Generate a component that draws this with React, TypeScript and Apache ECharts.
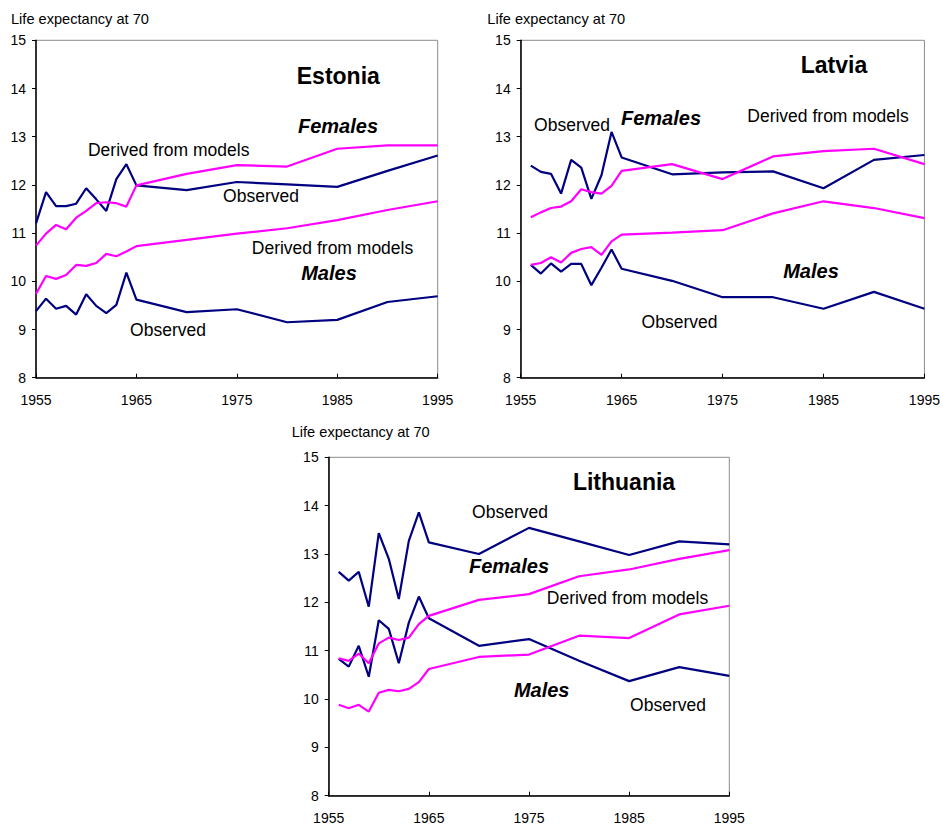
import React, { useEffect, useRef } from "react";
import * as echarts from "echarts";

// ---- Data ----
const estYears = [1955, 1956, 1957, 1958, 1959, 1960, 1961, 1962, 1963, 1964, 1965, 1970, 1975, 1980, 1985, 1990, 1995];
const estFemObs = [11.2, 11.85, 11.56, 11.56, 11.61, 11.93, 11.7, 11.46, 12.12, 12.43, 11.99, 11.89, 12.06, 12.01, 11.96, 12.29, 12.61];
const estFemMod = [10.74, 10.99, 11.17, 11.08, 11.32, 11.46, 11.62, 11.64, 11.62, 11.55, 11.99, 12.23, 12.41, 12.38, 12.75, 12.82, 12.82];
const estMalMod = [9.74, 10.11, 10.05, 10.13, 10.34, 10.32, 10.38, 10.57, 10.52, 10.62, 10.73, 10.86, 10.99, 11.1, 11.27, 11.48, 11.66];
const estMalObs = [9.38, 9.64, 9.43, 9.49, 9.31, 9.73, 9.49, 9.34, 9.51, 10.18, 9.62, 9.36, 9.42, 9.15, 9.2, 9.57, 9.69];

const latYears = [1956, 1957, 1958, 1959, 1960, 1961, 1962, 1963, 1964, 1965, 1970, 1975, 1980, 1985, 1990, 1995];
const latFemObs = [12.4, 12.27, 12.23, 11.82, 12.52, 12.36, 11.71, 12.2, 13.1, 12.57, 12.22, 12.26, 12.28, 11.93, 12.52, 12.62];
const latFemMod = [11.33, 11.43, 11.52, 11.55, 11.66, 11.91, 11.85, 11.82, 11.98, 12.29, 12.43, 12.12, 12.59, 12.7, 12.75, 12.43];
const latMalMod = [10.34, 10.38, 10.5, 10.39, 10.59, 10.67, 10.71, 10.55, 10.83, 10.97, 11.01, 11.06, 11.41, 11.66, 11.52, 11.31];
const latMalObs = [10.34, 10.16, 10.37, 10.2, 10.36, 10.36, 9.92, 10.28, 10.66, 10.26, 10.01, 9.67, 9.67, 9.43, 9.78, 9.43];

const litYears = [1956, 1957, 1958, 1959, 1960, 1961, 1962, 1963, 1964, 1965, 1970, 1975, 1980, 1985, 1990, 1995];
const litFemObs = [12.63, 12.45, 12.63, 11.91, 13.43, 12.9, 12.07, 13.27, 13.86, 13.24, 13.0, 13.54, 13.26, 12.98, 13.26, 13.2];
const litFemMod = [10.84, 10.79, 10.94, 10.74, 11.15, 11.27, 11.22, 11.27, 11.55, 11.72, 12.05, 12.17, 12.54, 12.68, 12.9, 13.08];
const litMalObs = [10.83, 10.67, 11.1, 10.46, 11.63, 11.45, 10.74, 11.58, 12.12, 11.67, 11.1, 11.24, 10.79, 10.37, 10.66, 10.48];
const litMalMod = [9.88, 9.81, 9.88, 9.74, 10.13, 10.19, 10.16, 10.21, 10.35, 10.62, 10.87, 10.92, 11.31, 11.26, 11.75, 11.93];

const xMin = 1955;
const xMax = 1995;
const xStep = 10;
const yMin = 8;
const yMax = 15;
const yStep = 1;

const yTitle = "Life expectancy at 70";
const countries = ["Estonia", "Latvia", "Lithuania"];

const NAVY = "#000080";
const MAGENTA = "#FF00FF";
const FONT = "'Liberation Sans', Arial, Helvetica, sans-serif";

const pairs = (xs: number[], ys: number[]) => xs.map((x, i) => [x, ys[i]]);

export default function App() {
  const ref = useRef<HTMLDivElement>(null);

  useEffect(() => {
    document.body.style.margin = "0";
    if (!ref.current) return;
    const chart = echarts.init(ref.current, undefined, { renderer: "svg" });

    const grids = [
      { left: 36, top: 40.3, width: 401.7, height: 337.4 },
      { left: 520.7, top: 40.3, width: 404.3, height: 337.4 },
      { left: 328.7, top: 457.3, width: 400.6, height: 338.4 },
    ];

    const xAxes = grids.map((_, i) => ({
      type: "value",
      gridIndex: i,
      min: xMin,
      max: xMax,
      interval: xStep,
      axisLine: { show: true, lineStyle: { color: "#000", width: 1.5 } },
      axisTick: { show: true, inside: true, length: 4, lineStyle: { color: "#000", width: 1 } },
      axisLabel: { show: true, margin: 15, color: "#000", fontSize: 14, fontFamily: FONT, formatter: (v: number) => String(v) },
      splitLine: { show: false },
    }));

    const yAxes = grids.map((_, i) => ({
      type: "value",
      gridIndex: i,
      min: yMin,
      max: yMax,
      interval: yStep,
      axisLine: { show: true, lineStyle: { color: "#000", width: 1.5 } },
      axisTick: { show: true, inside: false, length: 4, lineStyle: { color: "#000", width: 1 } },
      axisLabel: { show: true, margin: 10, color: "#000", fontSize: 14, fontFamily: FONT },
      splitLine: { show: false },
    }));

    const mk = (idx: number, xs: number[], ys: number[], color: string, name: string) => ({
      type: "line",
      name,
      xAxisIndex: idx,
      yAxisIndex: idx,
      data: pairs(xs, ys),
      symbol: "none",
      lineStyle: { color, width: 2.2 },
      itemStyle: { color },
    });

    const series = [
      mk(0, estYears, estFemObs, NAVY, "Estonia females observed"),
      mk(0, estYears, estMalObs, NAVY, "Estonia males observed"),
      mk(0, estYears, estFemMod, MAGENTA, "Estonia females models"),
      mk(0, estYears, estMalMod, MAGENTA, "Estonia males models"),
      mk(1, latYears, latFemObs, NAVY, "Latvia females observed"),
      mk(1, latYears, latMalObs, NAVY, "Latvia males observed"),
      mk(1, latYears, latFemMod, MAGENTA, "Latvia females models"),
      mk(1, latYears, latMalMod, MAGENTA, "Latvia males models"),
      mk(2, litYears, litFemObs, NAVY, "Lithuania females observed"),
      mk(2, litYears, litMalObs, NAVY, "Lithuania males observed"),
      mk(2, litYears, litFemMod, MAGENTA, "Lithuania females models"),
      mk(2, litYears, litMalMod, MAGENTA, "Lithuania males models"),
    ];

    const txt = (x: number, y: number, text: string, font: string, align = "center") => ({
      type: "text",
      x,
      y,
      z: 100,
      style: { text, fill: "#000", font, align, verticalAlign: "middle" },
    });
    const regular = `17.5px ${FONT}`;
    const boldIt = `italic bold 20px ${FONT}`;
    const title = `bold 23px ${FONT}`;
    const sub = `14.6px ${FONT}`;

    const graphic = [
      // subtitles
      txt(11, 19, yTitle, sub, "left"),
      txt(487.3, 19, yTitle, sub, "left"),
      txt(291.7, 432.3, yTitle, sub, "left"),
      // Estonia
      txt(338.3, 76, countries[0], title),
      txt(338, 126, "Females", boldIt),
      txt(168.7, 149.5, "Derived from models", regular),
      txt(261, 196, "Observed", regular),
      txt(332.5, 247.5, "Derived from models", regular),
      txt(329, 273, "Males", boldIt),
      txt(168, 329.5, "Observed", regular),
      // Latvia
      txt(834, 65, countries[1], title),
      txt(572, 124.5, "Observed", regular),
      txt(661, 118, "Females", boldIt),
      txt(828, 115.5, "Derived from models", regular),
      txt(811, 271, "Males", boldIt),
      txt(679.5, 322, "Observed", regular),
      // Lithuania
      txt(624, 481.5, countries[2], title),
      txt(510, 512, "Observed", regular),
      txt(509, 566, "Females", boldIt),
      txt(627.5, 597.5, "Derived from models", regular),
      txt(541.7, 690, "Males", boldIt),
      txt(668, 705, "Observed", regular),
    ];

    chart.setOption({
      animation: false,
      backgroundColor: "#fff",
      grid: grids.map((g) => ({ ...g, show: true, borderColor: "#8c8c8c", borderWidth: 1, backgroundColor: "transparent", containLabel: false })),
      xAxis: xAxes,
      yAxis: yAxes,
      series,
      graphic,
    });

    return () => chart.dispose();
  }, []);

  return <div ref={ref} style={{ width: 943, height: 825 }} />;
}
